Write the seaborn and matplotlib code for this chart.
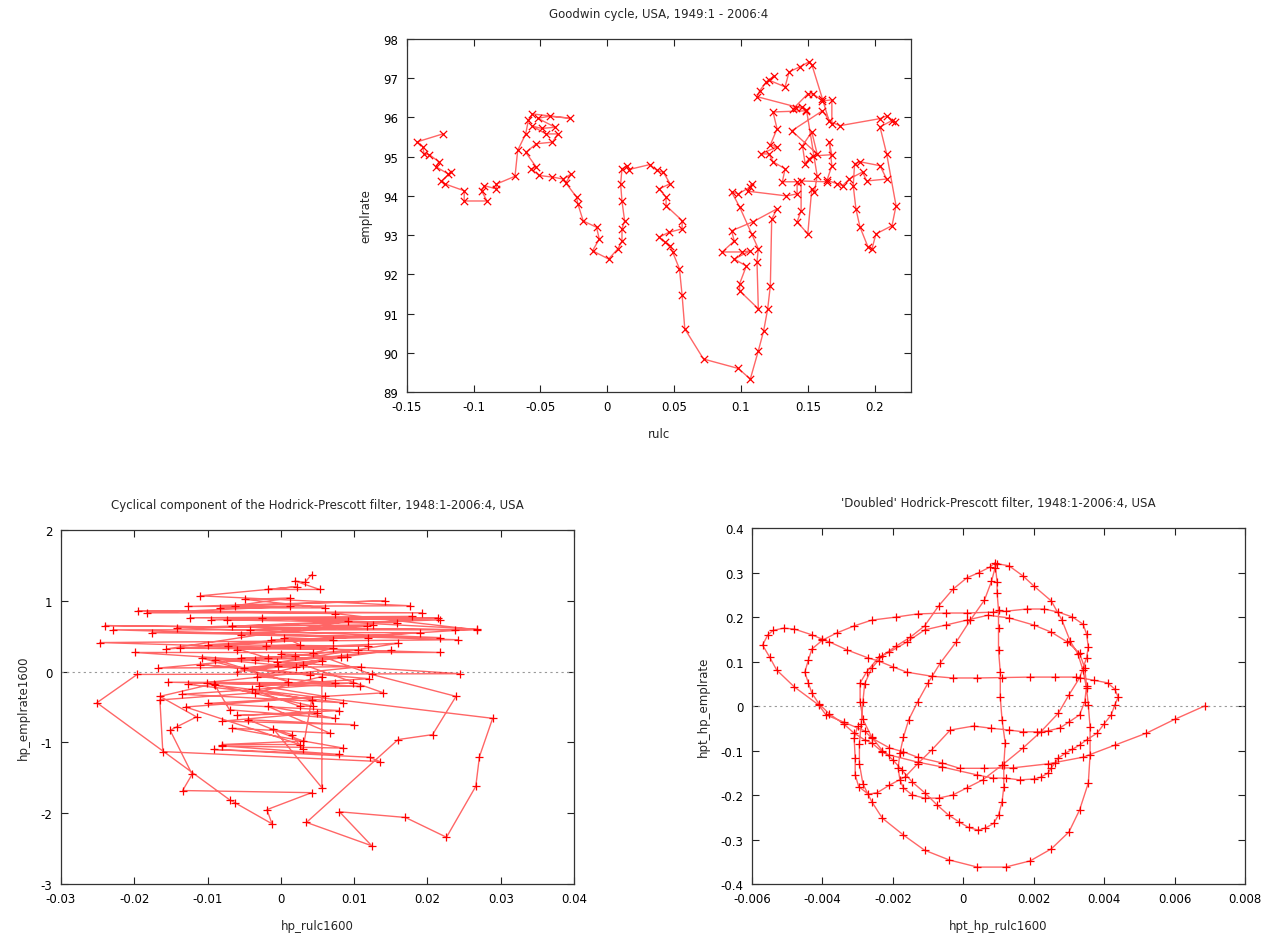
import numpy as np
import matplotlib
matplotlib.use("Agg")
import matplotlib.pyplot as plt
import seaborn as sns
from matplotlib.ticker import FormatStrFormatter

# ---- Goodwin cycle (rulc vs emplrate) ----
top_x = [-0.123, -0.142, -0.138, -0.137, -0.133, -0.126, -0.128, -0.119, -0.117, -0.124,
         -0.121, -0.107, -0.107, -0.090, -0.094, -0.092, -0.083, -0.083, -0.069, -0.067,
         -0.061, -0.059, -0.056, -0.028, -0.043, -0.052, -0.039, -0.049, -0.056, -0.046,
         -0.037, -0.041, -0.053, -0.061, -0.053, -0.057, -0.051, -0.041, -0.033, -0.027,
         -0.031, -0.023, -0.022, -0.018, -0.008, -0.006, -0.011, 0.001, 0.008, 0.011,
         0.011, 0.013, 0.011, 0.010, 0.011, 0.015, 0.016, 0.032, 0.037, 0.042,
         0.047, 0.039, 0.044, 0.044, 0.056, 0.056, 0.046, 0.039, 0.043, 0.047,
         0.049, 0.054, 0.056, 0.058, 0.072, 0.098, 0.107, 0.113, 0.117, 0.120,
         0.122, 0.123, 0.127, 0.109, 0.093, 0.095, 0.086, 0.101, 0.107, 0.095,
         0.104, 0.099, 0.099, 0.113, 0.112, 0.113, 0.108, 0.099, 0.093, 0.098,
         0.107, 0.108, 0.105, 0.134, 0.142, 0.142, 0.131, 0.133, 0.124, 0.121,
         0.115, 0.127, 0.122, 0.127, 0.124, 0.149, 0.146, 0.141, 0.139, 0.150,
         0.154, 0.161, 0.168, 0.168, 0.161, 0.138, 0.157, 0.153, 0.146, 0.148,
         0.151, 0.154, 0.168, 0.166, 0.168, 0.164, 0.145, 0.145, 0.142, 0.150,
         0.153, 0.155, 0.157, 0.149, 0.112, 0.114, 0.119, 0.125, 0.121, 0.133,
         0.136, 0.144, 0.151, 0.153, 0.161, 0.166, 0.174, 0.204, 0.209, 0.215,
         0.213, 0.204, 0.209, 0.216, 0.213, 0.201, 0.198, 0.195, 0.189, 0.186,
         0.184, 0.185, 0.189, 0.204, 0.209, 0.194, 0.191, 0.181, 0.176, 0.172,
         0.164]
top_y = [95.58, 95.38, 95.25, 95.07, 95.05, 94.87, 94.74, 94.56, 94.60, 94.38,
         94.30, 94.13, 93.87, 93.87, 94.13, 94.26, 94.18, 94.30, 94.50, 95.16,
         95.58, 95.93, 96.09, 95.98, 96.03, 95.98, 95.75, 95.72, 95.78, 95.58,
         95.58, 95.37, 95.33, 95.11, 94.73, 94.69, 94.52, 94.48, 94.43, 94.56,
         94.33, 93.97, 93.80, 93.36, 93.20, 92.90, 92.60, 92.39, 92.65, 92.85,
         93.16, 93.36, 93.87, 94.30, 94.69, 94.77, 94.67, 94.80, 94.65, 94.60,
         94.31, 94.18, 93.97, 93.75, 93.37, 93.16, 93.07, 92.95, 92.82, 92.73,
         92.56, 92.14, 91.46, 90.61, 89.84, 89.60, 89.33, 90.05, 90.56, 91.12,
         91.71, 93.41, 93.67, 93.34, 93.11, 92.85, 92.57, 92.57, 92.60, 92.39,
         92.21, 91.76, 91.58, 91.12, 92.32, 92.65, 93.03, 93.72, 94.10, 94.05,
         94.23, 94.31, 94.12, 94.00, 94.05, 94.36, 94.36, 94.69, 94.87, 95.07,
         95.07, 95.25, 95.30, 95.71, 96.14, 96.17, 96.27, 96.25, 96.22, 96.60,
         96.60, 96.42, 96.45, 95.84, 96.17, 95.66, 95.07, 95.63, 95.28, 94.82,
         94.95, 95.02, 95.05, 95.38, 94.77, 94.36, 94.38, 93.62, 93.34, 93.03,
         94.18, 94.10, 94.51, 96.20, 96.53, 96.68, 96.91, 97.06, 96.95, 96.78,
         97.16, 97.29, 97.42, 97.35, 96.47, 95.90, 95.79, 95.97, 96.04, 95.89,
         95.92, 95.76, 95.07, 93.75, 93.24, 93.03, 92.65, 92.70, 93.21, 93.67,
         94.26, 94.82, 94.87, 94.77, 94.43, 94.38, 94.61, 94.43, 94.26, 94.31,
         94.40]

# ---- HP cyclical components ----
hp_x = [0.0042, 0.0033, 0.0019, 0.0053, -0.0018, 0.0022, -0.0110, 0.0176, -0.0127, 0.0142,
        -0.0063, 0.0012, -0.0049, 0.0060, -0.0083, 0.0012, -0.0183, 0.0192, -0.0195, 0.0074,
        0.0267, -0.0240, 0.0237, -0.0229, 0.0242, -0.0247, 0.0217, -0.0199, 0.0244, -0.0196,
        -0.0251, -0.0070, -0.0063, -0.0012, -0.0019, 0.0042, -0.0134, -0.0121, -0.0151, -0.0142,
        -0.0115, -0.0165, -0.0091, 0.0098, -0.0135, 0.0085, -0.0126, 0.0110, -0.0167, 0.0105,
        -0.0138, 0.0119, -0.0099, 0.0190, -0.0176, 0.0217, -0.0142, 0.0217, -0.0124, 0.0179,
        -0.0095, 0.0215, -0.0074, 0.0158, -0.0026, 0.0267, -0.0156, 0.0091, -0.0067, 0.0126,
        -0.0042, 0.0117, -0.0054, 0.0119, -0.0013, 0.0071, 0.0005, 0.0026, -0.0020, 0.0071,
        0.0044, 0.0124, 0.0239, 0.0207, 0.0160, 0.0035, 0.0124, 0.0080, 0.0170, 0.0226,
        0.0266, 0.0271, 0.0289, -0.0090, -0.0070, 0.0074, -0.0018, 0.0067, -0.0067, 0.0085,
        -0.0080, 0.0080, -0.0091, 0.0121, 0.0135, -0.0161, -0.0165, -0.0035, 0.0056, 0.0056,
        -0.0010, 0.0015, 0.0030, 0.0042, -0.0040, 0.0026, 0.0044, -0.0101, 0.0108, -0.0154,
        0.0074, -0.0033, 0.0056, -0.0004, 0.0021, -0.0108, 0.0010, -0.0090, 0.0019, -0.0054,
        -0.0035, 0.0082, -0.0017, -0.0072, -0.0060, 0.0160, -0.0005, 0.0150, -0.0060, 0.0030,
        0.0140, -0.0100, 0.0080, -0.0060, 0.0050, -0.0080, 0.0100, -0.0045, 0.0030, -0.0080,
        0.0026, -0.0130, 0.0060, -0.0030, 0.0120, -0.0110, 0.0040, -0.0050, 0.0090, 0.0000]
hp_y = [1.37, 1.26, 1.28, 1.16, 1.16, 1.20, 1.07, 0.93, 0.92, 1.00,
        0.93, 1.04, 1.02, 0.90, 0.90, 0.92, 0.83, 0.83, 0.86, 0.82,
        0.59, 0.65, 0.59, 0.59, 0.45, 0.41, 0.27, 0.27, -0.03, -0.04,
        -0.44, -1.81, -1.85, -2.15, -1.95, -1.71, -1.68, -1.45, -0.83, -0.78,
        -0.64, -0.35, -0.17, -0.16, -0.32, -0.44, -0.18, 0.07, 0.05, 0.31,
        0.33, 0.36, 0.38, 0.55, 0.55, 0.48, 0.62, 0.73, 0.76, 0.78,
        0.73, 0.76, 0.73, 0.69, 0.76, 0.60, 0.32, 0.71, 0.64, 0.66,
        0.59, 0.64, 0.52, 0.48, 0.45, 0.45, 0.48, 0.38, 0.36, 0.33,
        0.26, -0.04, -0.35, -0.89, -0.96, -2.13, -2.46, -1.98, -2.06, -2.34,
        -1.62, -1.20, -0.66, -0.19, -0.54, -0.66, -0.49, -0.87, -0.80, -1.08,
        -1.05, -1.17, -1.10, -1.21, -1.27, -1.13, -0.40, -0.30, -0.07, -1.64,
        -0.81, -0.89, -1.10, -0.40, -0.25, -0.49, -0.49, -0.16, -0.21, -0.15,
        -0.16, -0.07, 0.15, 0.08, 0.07, 0.19, -0.14, 0.17, 0.22, 0.19,
        0.17, 0.20, 0.19, 0.36, 0.31, 0.40, 0.13, 0.30, 0.00, 0.10,
        -0.30, -0.45, -0.55, -0.62, -0.58, -0.70, -0.75, -0.68, -0.98, -1.03,
        -1.03, -0.50, -0.35, -0.20, -0.10, 0.10, -0.05, 0.05, 0.20, 0.25]

# ---- 'Doubled' HP filter, read as five consecutive stretches of the path ----
dbl1_x = [0.00685, 0.0060, 0.0052, 0.0043, 0.0034, 0.0024, 0.0014, 0.0006, -0.0001, -0.0006,
          -0.0013, -0.0017, -0.0021, -0.0026, -0.0028, -0.0034, -0.0039, -0.0041, -0.0048, -0.0053,
          -0.0055, -0.0057, -0.00555, -0.0054, -0.0051, -0.0048, -0.0043, -0.0040, -0.0038, -0.0033,
          -0.0027, -0.0024, -0.0020, -0.0016, -0.0009, -0.0003, 0.0004, 0.0011, 0.0019, 0.0026,
          0.0032, 0.0037, 0.0041, 0.0043, 0.0044, 0.0043, 0.0042, 0.0040, 0.0038, 0.0035,
          0.0033, 0.0031, 0.0029, 0.0027, 0.0026, 0.0025, 0.0024, 0.0022, 0.0020, 0.0016,
          0.0012, 0.00085, 0.0004, -0.0006, -0.0013, -0.0021, -0.0023, -0.0026, -0.0028, -0.0031,
          -0.0034, -0.0038, -0.0041]
dbl1_y = [0.0, -0.030, -0.061, -0.088, -0.115, -0.130, -0.139, -0.140, -0.140, -0.128,
          -0.115, -0.103, -0.094, -0.072, -0.056, -0.036, -0.020, 0.002, 0.043, 0.081,
          0.110, 0.137, 0.160, 0.170, 0.175, 0.173, 0.160, 0.150, 0.144, 0.126,
          0.108, 0.101, 0.088, 0.076, 0.067, 0.063, 0.063, 0.064, 0.065, 0.065,
          0.065, 0.058, 0.052, 0.038, 0.020, 0.002, -0.020, -0.040, -0.061, -0.076,
          -0.088, -0.097, -0.106, -0.117, -0.128, -0.139, -0.151, -0.160, -0.164, -0.166,
          -0.162, -0.162, -0.155, -0.137, -0.126, -0.110, -0.103, -0.083, -0.076, -0.061,
          -0.040, -0.018, 0.005]
dbl2_x = [-0.0043, -0.0044, -0.0045, -0.0044, -0.0043, -0.0040, -0.0036, -0.0031, -0.0026, -0.0019,
          -0.0013, -0.0005, 0.0001, 0.00085, 0.0012, 0.0018, 0.0023, 0.0027, 0.0031, 0.0034,
          0.0035, 0.00355, 0.0035, 0.0033, 0.0030, 0.0027, 0.0022, 0.0017, 0.0011, 0.00055,
          0.0001, -0.0003, -0.0007, -0.0011, -0.00145, -0.0017, -0.0018, -0.00185, -0.0018, -0.0017,
          -0.00155, -0.0013, -0.0010, -0.00065, -0.0002, 0.0002, 0.0006, 0.0008, 0.0009, 0.00095]
dbl2_y = [0.029, 0.052, 0.076, 0.103, 0.128, 0.148, 0.164, 0.180, 0.193, 0.200,
          0.207, 0.209, 0.209, 0.211, 0.213, 0.218, 0.218, 0.211, 0.200, 0.184,
          0.162, 0.133, 0.108, 0.063, 0.025, -0.016, -0.058, -0.094, -0.133, -0.166,
          -0.184, -0.200, -0.207, -0.207, -0.200, -0.184, -0.166, -0.139, -0.106, -0.070,
          -0.031, 0.009, 0.052, 0.097, 0.144, 0.193, 0.238, 0.280, 0.310, 0.320]
dbl3_x = [0.0013, 0.0017, 0.0020, 0.0025, 0.0028, 0.00304, 0.00325, 0.0034, 0.0035, 0.00355,
          0.0036, 0.0036, 0.00355, 0.0033, 0.0030, 0.0025, 0.0019, 0.0012, 0.0004, -0.0004,
          -0.0011, -0.0017, -0.0023, -0.0026, -0.00285, -0.00295, -0.00295, -0.0029, -0.00285, -0.0028,
          -0.0026, -0.0023, -0.0019, -0.0015, -0.0011, -0.0007, -0.0003, 0.0001, 0.00045, 0.00075,
          0.0009]
dbl3_y = [0.315, 0.292, 0.270, 0.236, 0.193, 0.145, 0.118, 0.080, 0.040, 0.002,
          -0.047, -0.110, -0.173, -0.234, -0.283, -0.321, -0.348, -0.362, -0.362, -0.346,
          -0.324, -0.290, -0.252, -0.215, -0.175, -0.130, -0.085, -0.040, 0.010, 0.050,
          0.085, 0.113, 0.135, 0.155, 0.180, 0.225, 0.262, 0.288, 0.300, 0.312,
          0.322]
dbl4_x = [0.00096, 0.00096, 0.0010, 0.0010, 0.0010, 0.00105, 0.00105, 0.0011, 0.00119, 0.00115,
          0.00115, 0.0011, 0.0010, 0.00086, 0.00063, 0.00043, 0.00015, -0.00013, -0.00042, -0.00075,
          -0.00108, -0.00146, -0.00174, -0.0020, -0.0023, -0.0026, -0.00285, -0.00293, -0.00293, -0.00274,
          -0.0024, -0.0021, -0.0016, -0.0011, -0.0005, 0.0001, 0.0007, 0.0013, 0.0020, 0.0025,
          0.00295, 0.0033, 0.00345, 0.0035, 0.00345]
dbl4_y = [0.279, 0.254, 0.216, 0.175, 0.126, 0.076, 0.020, -0.031, -0.083, -0.133,
          -0.182, -0.216, -0.245, -0.264, -0.274, -0.279, -0.273, -0.260, -0.245, -0.222,
          -0.196, -0.170, -0.144, -0.121, -0.100, -0.070, -0.030, 0.010, 0.052, 0.077,
          0.110, 0.121, 0.144, 0.171, 0.182, 0.193, 0.204, 0.198, 0.182, 0.166,
          0.144, 0.119, 0.085, 0.045, 0.010]
dbl5_x = [0.0033, 0.0030, 0.00275, 0.0024, 0.0021, 0.0017, 0.0013, 0.0008, 0.00029, -0.00037,
          -0.0009, -0.0013, -0.00165, -0.0021, -0.00245, -0.0027, -0.00297, -0.00307, -0.00307, -0.0031,
          -0.0030]
dbl5_y = [-0.020, -0.036, -0.049, -0.056, -0.058, -0.058, -0.054, -0.050, -0.045, -0.054,
          -0.099, -0.130, -0.159, -0.178, -0.195, -0.198, -0.181, -0.155, -0.117, -0.072,
          -0.046]

dbl_x = dbl1_x + dbl2_x + dbl3_x + dbl4_x + dbl5_x
dbl_y = dbl1_y + dbl2_y + dbl3_y + dbl4_y + dbl5_y

sns.set_style("ticks")
plt.rcParams["font.family"] = ["DejaVu Sans"]
plt.rcParams["axes.unicode_minus"] = False

fig = plt.figure(figsize=(12.75, 9.37), dpi=100)
ax_top = fig.add_axes([0.319, 0.5806, 0.3953, 0.3767])
ax_bl = fig.add_axes([0.0478, 0.0555, 0.4024, 0.3778])
ax_br = fig.add_axes([0.5898, 0.0555, 0.3867, 0.3799])

RED = "#ff0000"


def trace(ax, x, y, marker, size):
    sns.lineplot(x=x, y=y, sort=False, estimator=None, ax=ax,
                 color=RED, alpha=0.6, linewidth=1.0)
    sns.scatterplot(x=x, y=y, marker=marker, s=size, color=RED,
                    linewidth=0.9, ax=ax)


def style(ax, title, xlabel, ylabel, xticks, yticks, xlim, ylim):
    ax.set_xlim(*xlim)
    ax.set_ylim(*ylim)
    ax.set_xticks(xticks)
    ax.set_yticks(yticks)
    ax.xaxis.set_major_formatter(FormatStrFormatter("%g"))
    ax.yaxis.set_major_formatter(FormatStrFormatter("%g"))
    ax.tick_params(direction="in", length=5, width=0.8, top=True, right=True,
                   labelsize=8.5, pad=6, colors="#222222", labelcolor="black")
    for s in ax.spines.values():
        s.set_visible(True)
        s.set_linewidth(0.9)
        s.set_color("#333333")
    ax.set_title(title, fontsize=8.5, pad=16)
    ax.set_xlabel(xlabel, fontsize=8.5, labelpad=10)
    ax.set_ylabel(ylabel, fontsize=8.5, labelpad=8)


trace(ax_top, top_x, top_y, "x", 28)
style(ax_top, "Goodwin cycle, USA, 1949:1 - 2006:4", "rulc", "emplrate",
      [-0.15, -0.1, -0.05, 0, 0.05, 0.1, 0.15, 0.2], list(range(89, 99)),
      (-0.15, 0.227), (89, 98))

ax_bl.axhline(0, color="#999999", linestyle=(0, (2, 3)), linewidth=0.8)
trace(ax_bl, hp_x, hp_y, "+", 36)
style(ax_bl, "Cyclical component of the Hodrick-Prescott filter, 1948:1-2006:4, USA",
      "hp_rulc1600", "hp_emplrate1600",
      [-0.03, -0.02, -0.01, 0, 0.01, 0.02, 0.03, 0.04], [-3, -2, -1, 0, 1, 2],
      (-0.03, 0.04), (-3, 2))

ax_br.axhline(0, color="#999999", linestyle=(0, (2, 3)), linewidth=0.8)
trace(ax_br, dbl_x, dbl_y, "+", 36)
style(ax_br, "'Doubled' Hodrick-Prescott filter, 1948:1-2006:4, USA",
      "hpt_hp_rulc1600", "hpt_hp_emplrate",
      [-0.006, -0.004, -0.002, 0, 0.002, 0.004, 0.006, 0.008],
      [-0.4, -0.3, -0.2, -0.1, 0, 0.1, 0.2, 0.3, 0.4],
      (-0.006, 0.008), (-0.4, 0.4))

fig.savefig("out.png", dpi=100)
